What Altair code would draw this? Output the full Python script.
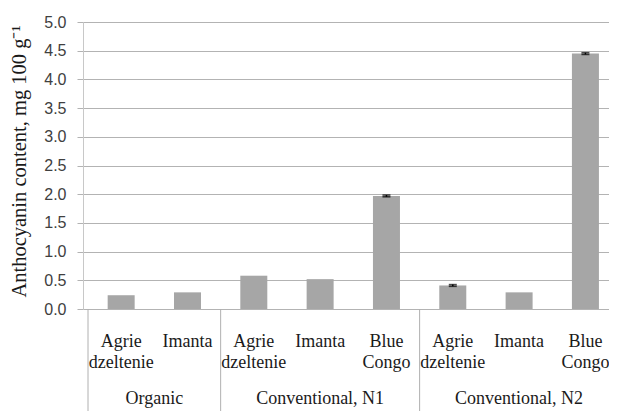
import altair as alt
import pandas as pd

# ---- data ----
groups = ["Organic", "Organic",
          "Conventional, N1", "Conventional, N1", "Conventional, N1",
          "Conventional, N2", "Conventional, N2", "Conventional, N2"]
cultivars = ["Agrie dzeltenie", "Imanta",
             "Agrie dzeltenie", "Imanta", "Blue Congo",
             "Agrie dzeltenie", "Imanta", "Blue Congo"]
values = [0.24, 0.29, 0.58, 0.52, 1.97, 0.41, 0.29, 4.45]
errors = [0.0, 0.0, 0.0, 0.0, 0.015, 0.015, 0.0, 0.015]
group_names = ["Organic", "Conventional, N1", "Conventional, N2"]
group_sizes = [2, 3, 3]
y_ticks = [0.0, 0.5, 1.0, 1.5, 2.0, 2.5, 3.0, 3.5, 4.0, 4.5, 5.0]
y_title = "Anthocyanin content, mg 100 g\u207b\u00b9"

# ---- tables ----
pos = [i + 0.5 for i in range(len(values))]
df = pd.DataFrame({
    "pos": pos,
    "cultivar": cultivars,
    "group": groups,
    "value": values,
    "err": errors,
    "lo": [v - e for v, e in zip(values, errors)],
    "hi": [v + e for v, e in zip(values, errors)],
})
starts, centres, s = [], [], 0
for n in group_sizes:
    starts.append(s)
    centres.append(s + n / 2)
    s += n
gdf = pd.DataFrame({"start": starts, "centre": centres, "group": group_names})

W, H = 526, 287
XMAX = 7.78
SERIF = "Liberation Serif"

xscale = alt.Scale(domain=[0, XMAX], nice=False, zero=False)
yscale = alt.Scale(domain=[0, 5], nice=False)


def yenc(field):
    return alt.Y(
        f"{field}:Q", scale=yscale, title=y_title,
        axis=alt.Axis(values=y_ticks, format=".1f", grid=True,
                      gridColor="#b3b3b3", gridWidth=1,
                      domainColor="#c8c8c8", tickColor="#b3b3b3",
                      tickSize=6, labelPadding=11,
                      labelFont="Liberation Sans", labelFontSize=16,
                      labelColor="#404040",
                      titleFont=SERIF, titleFontSize=20.5,
                      titleFontWeight="normal", titleColor="#1a1a1a",
                      titleX=-58, titleY=139, titleBaseline="alphabetic"))


def xenc(field):
    return alt.X(f"{field}:Q", scale=xscale, axis=None)


bars = alt.Chart(df).mark_bar(size=27, color="#a6a6a6").encode(
    x=xenc("pos"), y=yenc("value"))

eb = alt.Chart(df).transform_filter("datum.err > 0")
err_rule = eb.mark_rule(color="black", strokeWidth=1.5).encode(
    x=xenc("pos"), y=yenc("lo"), y2="hi:Q")
cap_lo = eb.mark_tick(color="black", size=8, thickness=1.6,
                      orient="horizontal").encode(x=xenc("pos"), y=yenc("lo"))
cap_hi = eb.mark_tick(color="black", size=8, thickness=1.6,
                      orient="horizontal").encode(x=xenc("pos"), y=yenc("hi"))

cult_labels = alt.Chart(df).mark_text(
    font=SERIF, fontSize=18, lineBreak=" ", lineHeight=21,
    baseline="alphabetic", color="#1a1a1a").encode(
    x=xenc("pos"), y=alt.value(325), text="cultivar:N")

group_labels = alt.Chart(gdf).mark_text(
    font=SERIF, fontSize=18, baseline="alphabetic", color="#1a1a1a").encode(
    x=xenc("centre"), y=alt.value(382), text="group:N")

separators = alt.Chart(gdf).mark_rule(color="#b0b0b0", strokeWidth=1).encode(
    x=xenc("start"), y=alt.value(H), y2=alt.value(H + 120))

chart = alt.layer(
    bars, err_rule, cap_lo, cap_hi, cult_labels, group_labels, separators
).properties(
    width=W, height=H,
    padding={"left": 75, "top": 14, "right": 0, "bottom": 102},
    autosize=alt.AutoSizeParams(type="none"),
).configure_view(strokeWidth=0).configure(background="white")

chart.save("out.html", embed_options={"renderer": "svg", "actions": False})
